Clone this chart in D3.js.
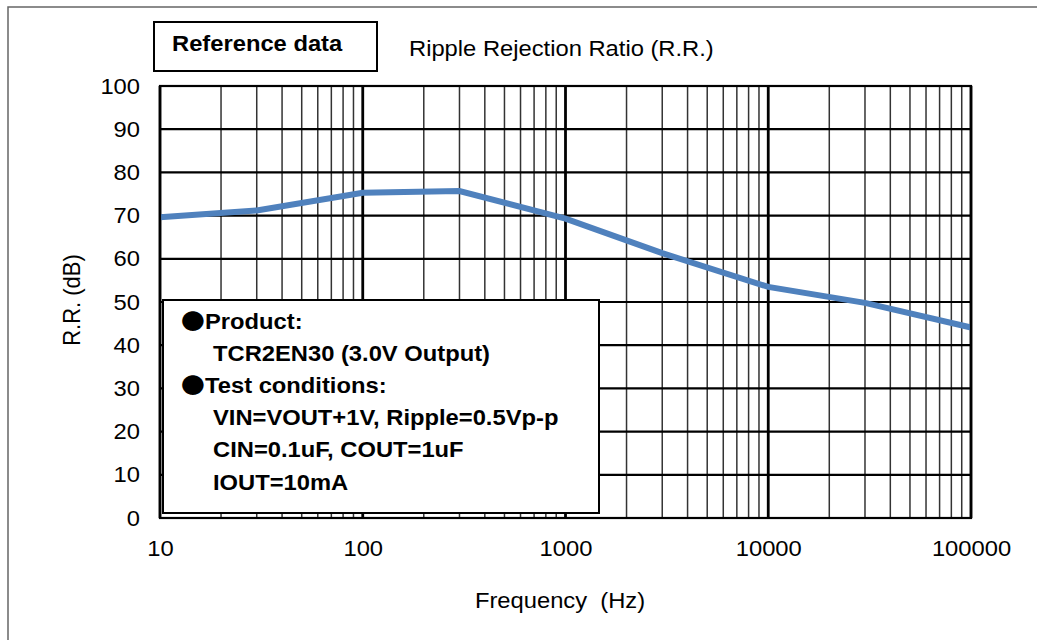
<!DOCTYPE html>
<html>
<head>
<meta charset="utf-8">
<script src="https://cdn.jsdelivr.net/npm/d3@7"></script>
<style>
  body { margin: 0; background: #fff; }
  text { font-family: "Liberation Sans", Arial, sans-serif; fill: #000; }
</style>
</head>
<body>
<div id="chart"></div>
<script>
// data
var freqs = [10, 30, 100, 300, 1000, 3000, 10000, 30000, 100000];
var rr = [69.6, 71.2, 75.3, 75.7, 69.3, 61.3, 53.5, 49.8, 44.1];

var xTicks = [10, 100, 1000, 10000, 100000];
var yTicks = [0, 10, 20, 30, 40, 50, 60, 70, 80, 90, 100];

var titleBoxText = "Reference data";
var titleText = "Ripple Rejection Ratio (R.R.)";
var xTitle = "Frequency  (Hz)";
var yTitle = "R.R. (dB)";

var legendLines = [
	{ bullet: true, text: "Product:" },
	{ bullet: false, text: "TCR2EN30 (3.0V Output)" },
	{ bullet: true, text: "Test conditions:" },
	{ bullet: false, text: "VIN=VOUT+1V, Ripple=0.5Vp-p" },
	{ bullet: false, text: "CIN=0.1uF, COUT=1uF" },
	{ bullet: false, text: "IOUT=10mA" }
];

var W = 1037, H = 640;
// plot area edges (note: "top" is taken by window.top)
var pLeft = 160, pRight = 971, pTop = 86, pBottom = 518;
var sx = 1.08; // text in the reference is a bit wide

var svg = d3.select("#chart").append("svg")
	.attr("width", W)
	.attr("height", H);

// outer frame
svg.append("rect")
	.attr("x", 8).attr("y", 7)
	.attr("width", W + 20).attr("height", H + 20)
	.style("fill", "#fff")
	.style("stroke", "#666")
	.style("stroke-width", 1.5);

var x = d3.scaleLog().domain([10, 100000]).range([pLeft, pRight]);
var y = d3.scaleLinear().domain([0, 100]).range([pBottom, pTop]);

function place(sel, px, py) {
	sel.attr("transform", "translate(" + px + "," + py + ") scale(" + sx + ",1)");
	return sel;
}

// grid
var grid = svg.append("g");
var minor = x.ticks().filter(function (d) { return xTicks.indexOf(d) < 0; });

grid.selectAll(".vminor")
	.data(minor)
	.enter().append("line")
	.attr("class", "vminor")
	.attr("x1", function (d) { return x(d); })
	.attr("x2", function (d) { return x(d); })
	.attr("y1", pTop).attr("y2", pBottom)
	.style("stroke", "#333")
	.style("stroke-width", 1.5);

grid.selectAll(".hline")
	.data(yTicks)
	.enter().append("line")
	.attr("class", "hline")
	.attr("x1", pLeft).attr("x2", pRight)
	.attr("y1", function (d) { return y(d); })
	.attr("y2", function (d) { return y(d); })
	.style("stroke", "#000")
	.style("stroke-width", 2.2);

grid.selectAll(".vmajor")
	.data(xTicks)
	.enter().append("line")
	.attr("class", "vmajor")
	.attr("x1", function (d) { return x(d); })
	.attr("x2", function (d) { return x(d); })
	.attr("y1", pTop).attr("y2", pBottom)
	.style("stroke", "#000")
	.style("stroke-width", 2.8);

// the curve
var line = d3.line()
	.x(function (d) { return x(d[0]); })
	.y(function (d) { return y(d[1]); });

svg.append("path")
	.datum(d3.zip(freqs, rr))
	.attr("d", line)
	.style("fill", "none")
	.style("stroke", "#4f81bd")
	.style("stroke-width", 6);

// axes (labels only)
var xAxis = svg.append("g")
	.attr("transform", "translate(0," + pBottom + ")")
	.call(d3.axisBottom(x).tickValues(xTicks).tickFormat(d3.format("d")).tickSize(0).tickPadding(22));
var yAxis = svg.append("g")
	.attr("transform", "translate(" + pLeft + ",0)")
	.call(d3.axisLeft(y).tickValues(yTicks).tickSize(0).tickPadding(18.5));

[xAxis, yAxis].forEach(function (a) {
	a.select(".domain").remove();
	a.selectAll("text")
		.style("font-size", "22px")
		.attr("fill", "#000")
		.attr("transform", "scale(" + sx + ",1)");
});

// legend box
var lg = svg.append("g");
lg.append("rect")
	.attr("x", 163).attr("y", 300)
	.attr("width", 436).attr("height", 213)
	.style("fill", "#fff")
	.style("stroke", "#000")
	.style("stroke-width", 2);

legendLines.forEach(function (l, i) {
	var by = 329 + i * 32.1;
	if (l.bullet) {
		place(lg.append("text"), 181, by)
			.style("font-size", "22px")
			.style("font-family", "'Noto Sans CJK JP', 'DejaVu Sans', sans-serif")
			.text("●");
	}
	place(lg.append("text"), l.bullet ? 205 : 213, by)
		.style("font-size", "22px")
		.style("font-weight", "bold")
		.text(l.text);
});

// plot border
svg.append("rect")
	.attr("x", pLeft).attr("y", pTop)
	.attr("width", pRight - pLeft).attr("height", pBottom - pTop)
	.style("fill", "none")
	.style("stroke", "#000")
	.style("stroke-width", 2.2);

// title box and title
svg.append("rect")
	.attr("x", 154).attr("y", 22)
	.attr("width", 223).attr("height", 49)
	.style("fill", "#fff")
	.style("stroke", "#000")
	.style("stroke-width", 2);

place(svg.append("text"), 172, 51)
	.style("font-size", "22px")
	.style("font-weight", "bold")
	.text(titleBoxText);

place(svg.append("text"), 409, 56)
	.style("font-size", "22px")
	.text(titleText);

// axis titles
place(svg.append("text"), 560, 608)
	.style("font-size", "22px")
	.style("white-space", "pre")
	.attr("text-anchor", "middle")
	.text(xTitle);

svg.append("text")
	.attr("transform", "translate(80,300) scale(" + sx + ",1) rotate(-90)")
	.attr("text-anchor", "middle")
	.style("font-size", "22px")
	.text(yTitle);
</script>
</body>
</html>
